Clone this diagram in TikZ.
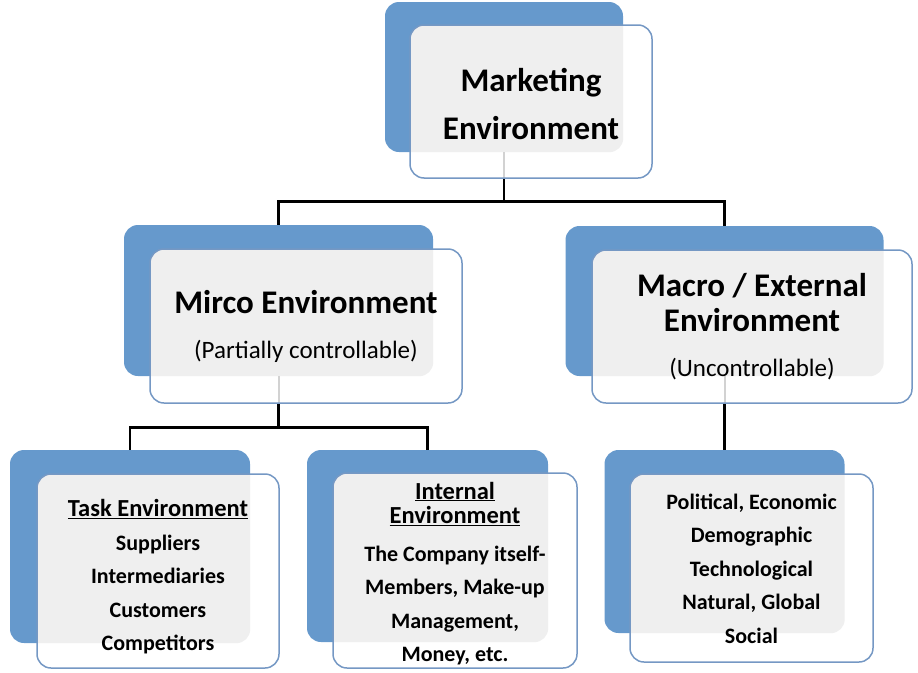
\documentclass[tikz,border=0pt]{standalone}
\usepackage{fontspec}
\setmainfont{Carlito}
\usetikzlibrary{positioning, calc}
\definecolor{envBlue}{HTML}{6699CC}
\definecolor{envEdge}{HTML}{7598C4}
\definecolor{envGrey}{HTML}{EFEFEF}
\definecolor{envFaint}{HTML}{D2D2D2}
\tikzset{
  backBox/.style={fill=envBlue, rounded corners=14pt, inner sep=0pt},
  frontBox/.style={draw=envEdge, line width=1.5pt, fill=white, rounded corners=14pt,
                   inner sep=0pt, align=center, text=black},
  overBack/.style={path picture={
      \fill[envGrey, rounded corners=14pt] (#1.south west) rectangle (#1.north east);}},
  overStem/.style={path picture={
      \fill[envGrey, rounded corners=14pt] (#1.south west) rectangle (#1.north east);
      \draw[envFaint, line width=2pt] (#1.south) -- ++(0,40);}},
  conn/.style={line width=2.6pt, black},
  headTxt/.style={font=\bfseries\fontsize{33}{35}\selectfont},
  bodyTxt/.style={font=\bfseries\fontsize{22}{33.5}\selectfont},
}
\newcommand{\subTxt}{\mdseries\fontsize{25}{26}\selectfont}
\newcommand{\secTxt}{\fontsize{24.5}{26}\selectfont}
\newcommand{\padTop}[1]{\rule{0pt}{#1}}

\begin{document}
\begin{tikzpicture}[x=1pt, y=-1pt]
  \useasboundingbox (0,0) rectangle (918,672);
  % blue backs
  \node[backBox, minimum width=238pt, minimum height=150pt] (mktB) at (504,77) {};
  \node[backBox, minimum width=309pt, minimum height=151pt] (micB) at (278.5,300.5) {};
  \node[backBox, minimum width=318pt, minimum height=150pt] (macB) at (724.5,301) {};
  \node[backBox, minimum width=240pt, minimum height=193pt] (tskB) at (130,546.5) {};
  \node[backBox, minimum width=241pt, minimum height=192pt] (intB) at (427.5,546) {};
  \node[backBox, minimum width=240pt, minimum height=183pt] (socB) at (724.5,541.5) {};
  % tree lines
  \draw[conn] (mktB.south) -- ++(0,49) -| (micB.north);
  \draw[conn] (mktB.south) ++(0,49) -| (macB.north);
  \draw[conn] (micB.south) -- ++(0,51) -| (tskB.north);
  \draw[conn] (micB.south) ++(0,51) -| (intB.north);
  \draw[conn] (macB.south) -- (socB.north);
  % white fronts with text
  \node[frontBox, overStem=mktB, headTxt, minimum width=242pt, minimum height=153pt] (mkt)
    at (531,101.5) {\padTop{29pt}Marketing\\[13pt]Environment};
  \node[frontBox, overStem=micB, headTxt, minimum width=312pt, minimum height=154pt] (mic)
    at (306,326) {Mirco Environment\\[10pt]{\subTxt(Partially controllable)}};
  \node[frontBox, overStem=macB, headTxt, minimum width=320pt, minimum height=153pt] (mac)
    at (752,326.5) {Macro / External\\Environment\\[10pt]{\subTxt(Uncontrollable)}};
  \node[frontBox, overBack=tskB, bodyTxt, minimum width=242pt, minimum height=194pt] (tsk)
    at (158,571) {\padTop{29pt}{\secTxt\underline{Task Environment}}\\Suppliers\\Intermediaries\\Customers\\Competitors};
  \node[frontBox, overBack=intB, bodyTxt, minimum width=244pt, minimum height=195pt] (int)
    at (455,570.5) {\padTop{23pt}{\secTxt\underline{Internal}}\\[-9pt]{\secTxt\underline{Environment}}\\[4pt]The Company itself-\\Members, Make-up\\Management,\\Money, etc.};
  \node[frontBox, overBack=socB, bodyTxt, minimum width=243pt, minimum height=188pt] (soc)
    at (751.5,568) {\padTop{17pt}Political, Economic\\Demographic\\Technological\\Natural, Global\\Social};
\end{tikzpicture}
\end{document}
